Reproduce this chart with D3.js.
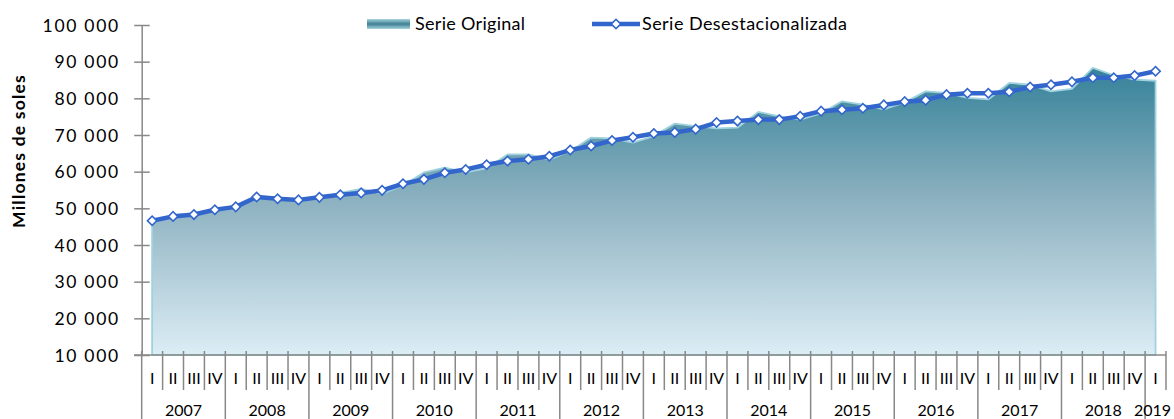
<!DOCTYPE html>
<html>
<head>
<meta charset="utf-8">
<script src="https://cdn.jsdelivr.net/npm/d3@7"></script>
<style>
  html, body { margin: 0; padding: 0; background: #fff; }
  svg { display: block; font-family: Lato, "Open Sans", sans-serif; }
</style>
</head>
<body>
<svg id="chart" width="1174" height="419"></svg>
<script>
// ---- data ----
const years = ["2007","2008","2009","2010","2011","2012","2013","2014","2015","2016","2017","2018","2019"];
const quarterLabels = ["I","II","III","IV"];
const seriesNames = ["Serie Original", "Serie Desestacionalizada"];
const serieOriginal = [
  45800, 48300, 48500, 49300,
  50000, 53400, 52900, 52000,
  52600, 54200, 55300, 54000,
  56200, 59800, 61100, 59800,
  60900, 64700, 64700, 63300,
  65600, 69300, 69100, 67900,
  69700, 73100, 72400, 71800,
  72000, 76300, 75100, 74200,
  75900, 79200, 78300, 77000,
  78900, 81900, 81500, 80100,
  79700, 84200, 83700, 81900,
  82600, 88300, 86300, 85100,
  84800
];
const serieDesest = [
  46600, 47800, 48300, 49600,
  50400, 53100, 52600, 52300,
  53000, 53700, 54200, 54900,
  56700, 57900, 59700, 60600,
  61900, 62900, 63400, 64200,
  65900, 67000, 68500, 69400,
  70400, 70700, 71600, 73400,
  73800, 74200, 74200, 75100,
  76500, 76900, 77300, 78200,
  79100, 79500, 81000, 81400,
  81400, 81800, 83100, 83700,
  84500, 85600, 85600, 86200,
  87400
];
const yTicks = [10000, 20000, 30000, 40000, 50000, 60000, 70000, 80000, 90000, 100000];
const yTitle = "Millones de soles";

// periods (year, quarter) built from the categories
const periods = [];
years.forEach(yr => quarterLabels.forEach(q => {
  if (periods.length < serieDesest.length) periods.push({ year: yr, q: q, key: yr + "-" + q });
}));

// ---- layout ----
const svg = d3.select("#chart");
const x = d3.scaleBand().domain(periods.map(d => d.key)).range([141.7, 1166]).padding(0);
const y = d3.scaleLinear().domain([10000, 100000]).range([355, 25]);
const cx = k => x(k) + x.bandwidth() / 2;
const axisColor = "#888888";

// gradient for area
const defs = svg.append("defs");
const grad = defs.append("linearGradient").attr("id", "areaGrad")
  .attr("gradientUnits", "userSpaceOnUse")
  .attr("x1", 0).attr("x2", 0)
  .attr("y1", y(d3.max(serieOriginal))).attr("y2", y(10000));
grad.append("stop").attr("offset", 0).attr("stop-color", "#35829a");
grad.append("stop").attr("offset", 0.45).attr("stop-color", "#8bb0bf");
grad.append("stop").attr("offset", 1).attr("stop-color", "#dcedf5");

const lgGrad = defs.append("linearGradient").attr("id", "legGrad")
  .attr("x1", 0).attr("x2", 0).attr("y1", 0).attr("y2", 1);
lgGrad.append("stop").attr("offset", 0).attr("stop-color", "#a6d4df");
lgGrad.append("stop").attr("offset", 0.5).attr("stop-color", "#3f7f93");
lgGrad.append("stop").attr("offset", 1).attr("stop-color", "#a6d4df");

// ---- area (original series) ----
const area = d3.area()
  .x((d, i) => cx(periods[i].key))
  .y0(y(10000))
  .y1(d => y(d));
svg.append("path").datum(serieOriginal)
  .attr("d", area)
  .attr("fill", "url(#areaGrad)")
  .attr("stroke", "#9fd2de")
  .attr("stroke-width", 1.8)
  .attr("stroke-linejoin", "round");

// ---- y axis ----
const fmt = d3.formatLocale({ decimal: ",", thousands: " ", grouping: [3], currency: ["", ""] }).format(",.0f");
const yAxis = d3.axisLeft(y).tickValues(yTicks).tickFormat(fmt).tickSizeInner(7.5).tickSizeOuter(0);
const yg = svg.append("g").attr("transform", "translate(141.7,0)").call(yAxis);
yg.select(".domain").attr("stroke", axisColor).attr("stroke-width", 1.5);
yg.selectAll(".tick line").attr("stroke", axisColor).attr("stroke-width", 1.5).attr("x1", 8);
yg.selectAll(".tick text")
  .attr("x", -21.8)
  .attr("dy", "0.36em")
  .attr("fill", "#000")
  .style("font-size", "17.5px")
  .style("letter-spacing", "1.7px")
  .style("font-family", "Lato, sans-serif");

// y title
svg.append("text")
  .attr("transform", "translate(25,151) rotate(-90)")
  .attr("text-anchor", "middle")
  .style("font-size", "17.5px")
  .style("font-weight", "bold")
  .style("letter-spacing", "1.2px")
  .attr("fill", "#000")
  .text(yTitle);

// ---- x axis (category) ----
const xg = svg.append("g");
xg.append("line")
  .attr("x1", 134).attr("x2", x.range()[1])
  .attr("y1", y(10000)).attr("y2", y(10000))
  .attr("stroke", axisColor).attr("stroke-width", 1.5);

// boundaries
const boundaries = periods.map((p, i) => ({ pos: x(p.key), yearStart: p.q === quarterLabels[0] }));
boundaries.push({ pos: x(periods[periods.length - 1].key) + x.bandwidth(), yearStart: false });
xg.selectAll("line.b").data(boundaries).join("line")
  .attr("class", "b")
  .attr("x1", d => d.pos).attr("x2", d => d.pos)
  .attr("y1", 351)
  .attr("y2", d => d.yearStart ? 419 : 390)
  .attr("stroke", axisColor).attr("stroke-width", 1.5);

// quarter labels
xg.selectAll("text.q").data(periods).join("text")
  .attr("class", "q")
  .attr("x", d => cx(d.key))
  .attr("y", 383.5)
  .attr("text-anchor", "middle")
  .style("font-size", "16px")
  .attr("fill", "#000")
  .text(d => d.q);

// year labels
const yearGroups = years.map(yr => {
  const ps = periods.filter(p => p.year === yr);
  const x0 = x(ps[0].key), x1 = x(ps[ps.length - 1].key) + x.bandwidth();
  return { yr, c: (x0 + x1) / 2 };
});
xg.selectAll("text.yr").data(yearGroups).join("text")
  .attr("class", "yr")
  .attr("x", d => d.c - (d.yr === years[years.length - 1] ? 3 : 0))
  .attr("y", 415.5)
  .attr("text-anchor", "middle")
  .style("font-size", "16px")
  .attr("fill", "#000")
  .text(d => d.yr);

// ---- line (seasonally adjusted) ----
const lineColor = "#3366cc";
const line = d3.line().x((d, i) => cx(periods[i].key)).y(d => y(d));
svg.append("path").datum(serieDesest)
  .attr("d", line)
  .attr("fill", "none")
  .attr("stroke", lineColor)
  .attr("stroke-width", 4.5)
  .attr("stroke-linejoin", "round");

const marker = d3.symbol().type(d3.symbolSquare).size(44);
svg.selectAll("path.mk").data(serieDesest).join("path")
  .attr("class", "mk")
  .attr("d", marker)
  .attr("transform", (d, i) => `translate(${cx(periods[i].key)},${y(d)}) rotate(45)`)
  .attr("fill", "#fff")
  .attr("stroke", lineColor)
  .attr("stroke-width", 1.6);

// ---- legend ----
const leg = svg.append("g");
leg.append("rect")
  .attr("x", 367).attr("y", 19).attr("width", 43).attr("height", 10)
  .attr("fill", "url(#legGrad)");
leg.append("text")
  .attr("x", 415).attr("y", 30)
  .style("font-size", "18px")
  .style("letter-spacing", "0.3px")
  .attr("fill", "#000")
  .text(seriesNames[0]);

leg.append("line")
  .attr("x1", 592).attr("x2", 640).attr("y1", 24).attr("y2", 24)
  .attr("stroke", lineColor).attr("stroke-width", 4.5);
leg.append("path")
  .attr("d", marker)
  .attr("transform", "translate(616,24) rotate(45)")
  .attr("fill", "#fff").attr("stroke", lineColor).attr("stroke-width", 1.6);
leg.append("text")
  .attr("x", 642).attr("y", 30)
  .style("font-size", "18px")
  .style("letter-spacing", "0.45px")
  .attr("fill", "#000")
  .text(seriesNames[1]);
</script>
</body>
</html>
